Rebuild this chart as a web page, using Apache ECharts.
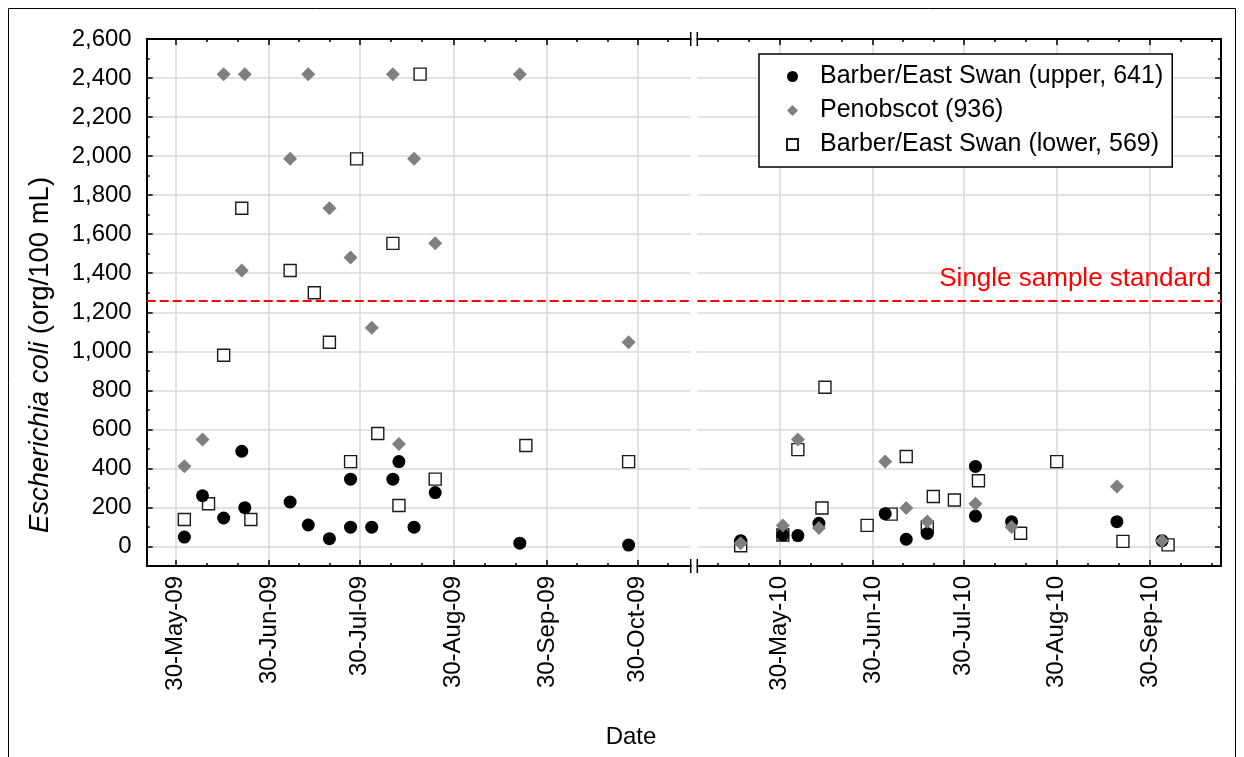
<!DOCTYPE html>
<html><head><meta charset="utf-8">
<script src="https://cdn.jsdelivr.net/npm/echarts@6/dist/echarts.min.js"></script>
<style>html,body{margin:0;padding:0;background:#fff}#c{width:1244px;height:757px}</style>
</head><body><div id="c"></div>
<script>
// ---------------- DATA ----------------
const seriesNames = ['Barber/East Swan (upper, 641)', 'Penobscot (936)', 'Barber/East Swan (lower, 569)'];

const upper2009 = [['2009-06-02',48],['2009-06-08',260],['2009-06-15',146],['2009-06-21',488],['2009-06-22',199],
  ['2009-07-07',228],['2009-07-13',110],['2009-07-20',40],['2009-07-27',345],['2009-07-27',99],['2009-08-03',99],
  ['2009-08-10',345],['2009-08-12',435],['2009-08-17',99],['2009-08-24',276],['2009-09-21',17],['2009-10-27',7]];
const penobscot2009 = [['2009-06-02',411],['2009-06-08',548],['2009-06-15',2420],['2009-06-21',1414],['2009-06-22',2420],
  ['2009-07-07',1986],['2009-07-13',2420],['2009-07-20',1733],['2009-07-27',1480],['2009-08-03',1120],['2009-08-10',2420],
  ['2009-08-12',525],['2009-08-17',1986],['2009-08-24',1553],['2009-09-21',2420],['2009-10-27',1046]];
const lower2009 = [['2009-06-02',138],['2009-06-10',219],['2009-06-15',980],['2009-06-21',1733],['2009-06-24',138],
  ['2009-07-07',1414],['2009-07-15',1300],['2009-07-20',1046],['2009-07-27',435],['2009-07-29',1986],['2009-08-05',579],
  ['2009-08-10',1553],['2009-08-12',210],['2009-08-19',2420],['2009-08-24',345],['2009-09-23',517],['2009-10-27',435]];

const upper2010 = [['2010-05-17',30],['2010-05-31',59],['2010-06-05',56],['2010-06-12',119],['2010-07-04',168],
  ['2010-07-11',37],['2010-07-18',67],['2010-08-03',410],['2010-08-03',156],['2010-08-15',127],['2010-09-19',127],['2010-10-04',30]];
const penobscot2010 = [['2010-05-17',16],['2010-05-31',107],['2010-06-05',548],['2010-06-12',95],['2010-07-04',435],
  ['2010-07-11',197],['2010-07-18',128],['2010-08-03',219],['2010-08-15',100],['2010-09-19',307],['2010-10-04',30]];
const lower2010 = [['2010-05-17',4],['2010-05-31',59],['2010-06-05',496],['2010-06-13',197],['2010-06-14',816],
  ['2010-06-28',108],['2010-07-06',166],['2010-07-11',461],['2010-07-18',100],['2010-07-20',256],['2010-07-27',238],
  ['2010-08-04',337],['2010-08-18',68],['2010-08-30',435],['2010-09-21',26],['2010-10-06',8]];

const tickDates2009 = ['2009-05-30','2009-06-30','2009-07-30','2009-08-30','2009-09-30','2009-10-30'];
const tickLabels2009 = ['30-May-09','30-Jun-09','30-Jul-09','30-Aug-09','30-Sep-09','30-Oct-09'];
const tickDates2010 = ['2010-05-30','2010-06-30','2010-07-30','2010-08-30','2010-09-30'];
const tickLabels2010 = ['30-May-10','30-Jun-10','30-Jul-10','30-Aug-10','30-Sep-10'];
const yTicks = [0,200,400,600,800,1000,1200,1400,1600,1800,2000,2200,2400,2600];
const yMinorTicks = [100,300,500,700,900,1100,1300,1500,1700,1900,2100,2300,2500];
const standardValue = 1260;
const standardLabel = 'Single sample standard';
const yTitle = 'Escherichia coli';
const yTitleRest = ' (org/100 mL)';
const xTitle = 'Date';

// ---------------- LAYOUT ----------------
const FONT = 'Liberation Sans, Arial, sans-serif';
const TOP = 39, H = 527;
const L0 = 146.7, W0 = 544;
const L1 = 697.3, W1 = 523.7;
const range2009 = ['2009-05-20T13:00:00Z', '2009-11-16T13:00:00Z'];
const range2010 = ['2010-05-02T14:00:00Z', '2010-10-23T14:00:00Z'];

const ts = s => new Date(s.length <= 10 ? s + 'T00:00:00Z' : s).getTime();
const toPts = arr => arr.map(d => [ts(d[0]), d[1]]);

function minorsOf(majors, lo, hi) {
  const out = [];
  const n = majors.length;
  const firstStep = majors[1] - majors[0], lastStep = majors[n-1] - majors[n-2];
  for (let k = 1; k <= 3; k++) { out.push(majors[0] - firstStep * k / 3); }
  for (let i = 0; i < n - 1; i++) {
    const s = majors[i+1] - majors[i];
    out.push(majors[i] + s / 3, majors[i] + 2 * s / 3);
  }
  for (let k = 1; k <= 3; k++) { out.push(majors[n-1] + lastStep * k / 3); }
  return out.filter(v => v > lo && v < hi);
}

const maj09 = tickDates2009.map(ts), maj10 = tickDates2010.map(ts);
const r09 = range2009.map(ts), r10 = range2010.map(ts);
const min09 = minorsOf(maj09, r09[0], r09[1]);
const min10 = minorsOf(maj10, r10[0], r10[1]);

const LINE = { show: true, onZero: false, lineStyle: { color: '#000', width: 2 } };
const NOLINE = { show: false, onZero: false };
const GRIDLINE = { show: true, lineStyle: { color: '#d9d9d9', width: 1.5 } };

function xAxis(grid, pos, range, vals, major, labels) {
  return {
    type: 'value', gridIndex: grid, position: pos, min: range[0], max: range[1],
    axisLine: major ? LINE : NOLINE,
    axisTick: { show: true, inside: true, length: major ? 6 : 3, customValues: vals, lineStyle: { color: '#000', width: 1.5 } },
    axisLabel: labels ? {
      show: true, customValues: vals, rotate: 90, margin: 10, fontSize: 24, color: '#000', fontFamily: FONT,
      formatter: v => { const i = vals.findIndex(t => Math.abs(t - v) < 1000); return i >= 0 ? labels[i] : ''; }
    } : { show: false },
    splitLine: (major && pos === 'bottom') ? GRIDLINE : { show: false }
  };
}
function yAxis(grid, pos, vals, major, withLabels) {
  return {
    type: 'value', gridIndex: grid, position: pos, min: -100, max: 2600,
    axisLine: major ? LINE : NOLINE,
    axisTick: { show: true, inside: true, length: major ? 6 : 3, customValues: vals, lineStyle: { color: '#000', width: 1.5 } },
    axisLabel: withLabels ? { show: true, customValues: vals, margin: 15, fontSize: 24, color: '#000', fontFamily: FONT,
      formatter: v => v.toLocaleString('en-US') } : { show: false },
    splitLine: major ? GRIDLINE : { show: false }
  };
}

const styleLower = { symbol: 'rect', symbolSize: 12, itemStyle: { color: '#fff', borderColor: '#1a1a1a', borderWidth: 1.4, opacity: 1 } };
const styleUpper = { symbol: 'circle', symbolSize: 13, itemStyle: { color: '#000', opacity: 1 } };
const stylePen = { symbol: 'diamond', symbolSize: 14, itemStyle: { color: '#7f7f7f', opacity: 1 } };

function markLine(withLabel) {
  return {
    silent: true, symbol: ['none', 'none'], animation: false,
    lineStyle: { color: '#ff0000', type: [9, 4], width: 2 },
    label: withLabel ? { show: true, position: 'insideEndTop', formatter: standardLabel, color: '#ff0000',
      fontSize: 26, fontFamily: FONT, distance: [10, 9] } : { show: false },
    data: [{ yAxis: standardValue }]
  };
}

function seriesFor(xi, yi, up, pen, low, labelLine) {
  return [
    Object.assign({ type: 'scatter', name: seriesNames[2], xAxisIndex: xi, yAxisIndex: yi, data: toPts(low), z: 3,
      markLine: markLine(labelLine) }, styleLower),
    Object.assign({ type: 'scatter', name: seriesNames[0], xAxisIndex: xi, yAxisIndex: yi, data: toPts(up), z: 4 }, styleUpper),
    Object.assign({ type: 'scatter', name: seriesNames[1], xAxisIndex: xi, yAxisIndex: yi, data: toPts(pen), z: 5 }, stylePen)
  ];
}

const chart = echarts.init(document.getElementById('c'), null, { renderer: 'canvas' });
const gridBottomY = TOP + H;
const br = [];
[L0 + W0, L1].forEach(x => {
  [TOP, gridBottomY].forEach(y => br.push({ type: 'line', shape: { x1: x, y1: y - 7, x2: x, y2: y + 7 }, style: { stroke: '#000', lineWidth: 1.5 }, z: 100 }));
});

chart.setOption({
  backgroundColor: '#fff',
  animation: false,
  grid: [
    { left: L0, top: TOP, width: W0, height: H, outerBoundsMode: 'none', containLabel: false },
    { left: L1, top: TOP, width: W1, height: H, outerBoundsMode: 'none', containLabel: false }
  ],
  xAxis: [
    xAxis(0, 'bottom', r09, maj09, true, tickLabels2009),
    xAxis(0, 'bottom', r09, min09, false, null),
    xAxis(0, 'top', r09, maj09, true, null),
    xAxis(0, 'top', r09, min09, false, null),
    xAxis(1, 'bottom', r10, maj10, true, tickLabels2010),
    xAxis(1, 'bottom', r10, min10, false, null),
    xAxis(1, 'top', r10, maj10, true, null),
    xAxis(1, 'top', r10, min10, false, null)
  ],
  yAxis: [
    yAxis(0, 'left', yTicks, true, true),
    yAxis(0, 'left', yMinorTicks, false, false),
    yAxis(1, 'right', yTicks, true, false),
    yAxis(1, 'right', yMinorTicks, false, false)
  ],
  legend: {
    data: seriesNames, orient: 'vertical', left: 759, top: 54,
    padding: [10, 9, 10, 27], itemGap: 9, itemWidth: 11, itemHeight: 11,
    borderColor: '#000', borderWidth: 1.5, backgroundColor: '#fff', borderRadius: 0,
    selectedMode: false,
    textStyle: { fontSize: 25, color: '#000', fontFamily: FONT, padding: [0, 0, 0, 17] }
  },
  graphic: [
    { type: 'rect', shape: { x: 8.5, y: 8.5, width: 1227, height: 800 }, style: { fill: 'none', stroke: '#000', lineWidth: 1 }, z: -10, silent: true },
    { type: 'text', x: 40, y: 355, rotation: Math.PI / 2, silent: true,
      style: { text: '{i|' + yTitle + '}' + yTitleRest, align: 'center', verticalAlign: 'middle',
        fontSize: 27.5, fontFamily: FONT, fill: '#000',
        rich: { i: { fontStyle: 'italic', fontSize: 27.5, fontFamily: FONT, fill: '#000' } } } },
    { type: 'text', x: 631, y: 737, silent: true,
      style: { text: xTitle, align: 'center', verticalAlign: 'middle', fontSize: 24, fontFamily: FONT, fill: '#000' } }
  ].concat(br),
  series: [].concat(
    seriesFor(0, 0, upper2009, penobscot2009, lower2009, false),
    seriesFor(4, 2, upper2010, penobscot2010, lower2010, true)
  )
});
</script></body></html>
